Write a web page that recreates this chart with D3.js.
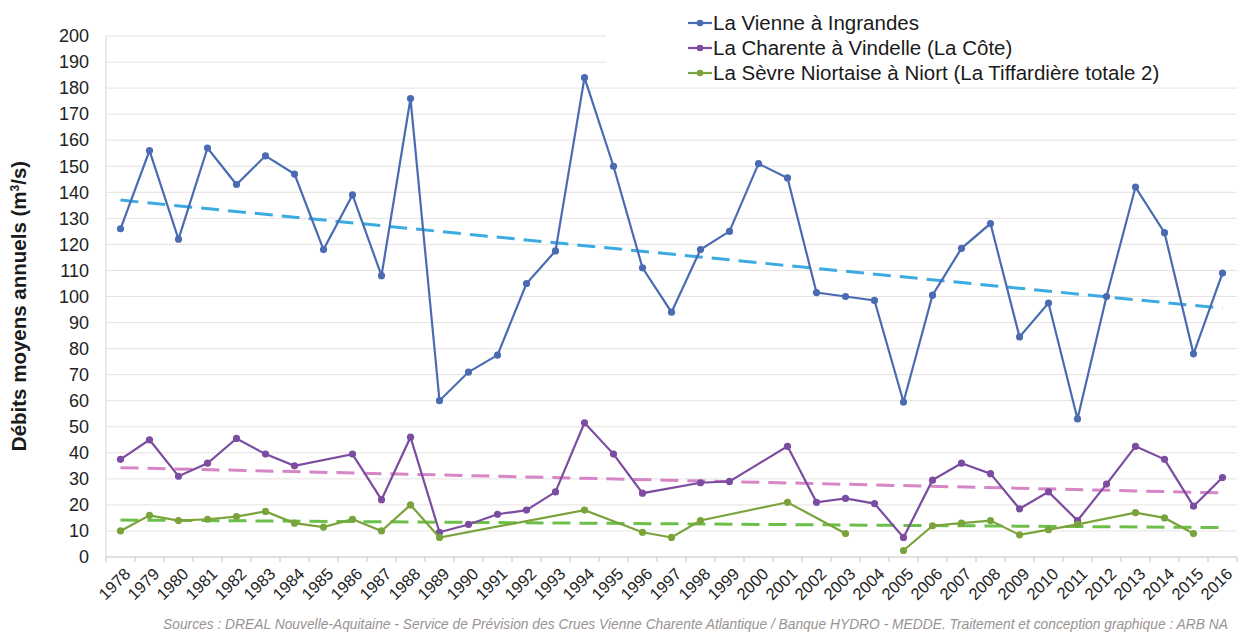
<!doctype html>
<html>
<head>
<meta charset="utf-8">
<script src="https://cdnjs.cloudflare.com/ajax/libs/d3/7.8.5/d3.min.js"></script>
<style>
    body { margin: 0; background: #fff; }
    svg { display: block; font-family: "Liberation Sans", Arial, sans-serif; }
    .grid line { stroke: #e6e2e2; stroke-width: 1; }
    .yaxis text { font-size: 18px; fill: #222; }
    .xaxis text { font-size: 16.5px; fill: #222; }
    .legend text { font-size: 20.5px; fill: #1a1a1a; }
</style>
</head>
<body>
<script>
    // annees
    var years = d3.range(1978, 2017);

    // debits moyens annuels (m3/s), null = pas de donnee
    var vienne = [126, 156, 122, 157, 143, 154, 147, 118, 139, 108, 176, 60, 71, 77.5, 105, 117.5, 184, 150, 111, 94,
        118, 125, 151, 145.5, 101.5, 100, 98.5, 59.5, 100.5, 118.5, 128, 84.5, 97.5, 53, 100, 142, 124.5, 78, 109];
    var charente = [37.5, 45, 31, 36, 45.5, 39.5, 35, null, 39.5, 22, 46, 9.5, 12.5, 16.4, 18, 25, 51.5, 39.5, 24.5, null,
        28.5, 29, null, 42.5, 21, 22.5, 20.5, 7.5, 29.5, 36, 32, 18.5, 25, 14, 28, 42.5, 37.5, 19.5, 30.5];
    var sevre = [10, 16, 14, 14.5, 15.5, 17.5, 13, 11.5, 14.5, 10, 20, 7.5, null, null, null, null, 18, null, 9.5, 7.5,
        14, null, null, 21, null, 9, null, 2.5, 12, 13, 14, 8.5, 10.5, 12.5, null, 17, 15, 9, null];
    // annees ou la courbe est interrompue
    var sevreBreaks = [2004];

    // courbes de tendance (valeurs en 1978 et 2016)
    var trendVienne = [137, 95.5];
    var trendCharente = [34.3, 24.6];
    var trendSevre = [14.2, 11.3];

    var yTicks = d3.range(0, 201, 10);
    var seriesNames = ["La Vienne à Ingrandes", "La Charente à Vindelle (La Côte)",
        "La Sèvre Niortaise à Niort (La Tiffardière totale 2)"];

    var series = [
        { name: seriesNames[0], values: vienne, breaks: [], color: "#4a6bb2", trend: trendVienne, trendColor: "#3cabe2" },
        { name: seriesNames[1], values: charente, breaks: [], color: "#7b4c9f", trend: trendCharente, trendColor: "#d685c6" },
        { name: seriesNames[2], values: sevre, breaks: sevreBreaks, color: "#7aa33c", trend: trendSevre, trendColor: "#6cbf48" }
    ];

    var width = 1238, height = 633;
    var plotLeft = 106, plotRight = 1237, plotTop = 36, plotBottom = 557;

    var svg = d3.select("body").append("svg")
        .attr("width", width)
        .attr("height", height);

    var x = d3.scaleBand().domain(years).range([plotLeft, plotRight]);
    var cx = function(yr) { return x(yr) + x.bandwidth() / 2; };
    var y = d3.scaleLinear().domain([0, 200]).range([plotBottom, plotTop]);

    // grille
    svg.append("g").attr("class", "grid")
        .selectAll("line")
        .data(yTicks.filter(function(d) { return d > 0; }))
        .enter().append("line")
        .attr("x1", plotLeft).attr("x2", plotRight)
        .attr("y1", function(d) { return y(d); })
        .attr("y2", function(d) { return y(d); });

    // axe vertical
    svg.append("line")
        .attr("x1", plotLeft).attr("x2", plotLeft)
        .attr("y1", plotTop).attr("y2", plotBottom)
        .attr("stroke", "#d9d4d4");

    var yAxis = d3.axisLeft(y).tickValues(yTicks).tickSize(0).tickPadding(17);
    svg.append("g").attr("class", "yaxis")
        .attr("transform", "translate(" + plotLeft + ",0)")
        .call(yAxis)
        .call(function(g) { g.select(".domain").remove(); });

    // axe horizontal
    svg.append("line")
        .attr("x1", plotLeft).attr("x2", plotRight)
        .attr("y1", plotBottom).attr("y2", plotBottom)
        .attr("stroke", "#c8c0c0");

    svg.append("g")
        .selectAll("line")
        .data(years.concat([2017]))
        .enter().append("line")
        .attr("x1", function(d) { return d === 2017 ? plotRight : x(d); })
        .attr("x2", function(d) { return d === 2017 ? plotRight : x(d); })
        .attr("y1", plotBottom).attr("y2", plotBottom + 5)
        .attr("stroke", "#c8c0c0");

    svg.append("g").attr("class", "xaxis")
        .selectAll("text")
        .data(years)
        .enter().append("text")
        .attr("text-anchor", "end")
        .attr("transform", function(d) { return "translate(" + (cx(d) + 7) + "," + (plotBottom + 14) + ") rotate(-45)"; })
        .attr("dy", "0.35em")
        .text(function(d) { return d; });

    // titre axe
    svg.append("text")
        .attr("transform", "translate(26,306) rotate(-90)")
        .attr("text-anchor", "middle")
        .style("font-size", "20.5px")
        .style("font-weight", "bold")
        .style("fill", "#1a1a1a")
        .html("Débits moyens annuels (m<tspan baseline-shift='super' font-size='12px'>3</tspan>/s)");

    // tendances
    series.forEach(function(s) {
        svg.append("line")
            .attr("x1", cx(years[0])).attr("x2", cx(years[years.length - 1]))
            .attr("y1", y(s.trend[0])).attr("y2", y(s.trend[1]))
            .attr("stroke", s.trendColor)
            .attr("stroke-width", 3)
            .attr("stroke-dasharray", "18,9");
    });

    // courbes
    series.forEach(function(s) {
        var pts = years.map(function(yr, i) { return { year: yr, v: s.values[i] }; });
        var segments = [[]];
        pts.forEach(function(p) {
            if (s.breaks.indexOf(p.year) >= 0) { segments.push([]); return; }
            if (p.v !== null) segments[segments.length - 1].push(p);
        });
        var line = d3.line()
            .x(function(p) { return cx(p.year); })
            .y(function(p) { return y(p.v); });
        segments.forEach(function(seg) {
            svg.append("path")
                .attr("d", line(seg))
                .attr("fill", "none")
                .attr("stroke", s.color)
                .attr("stroke-width", 2.2);
        });
        svg.append("g").selectAll("circle")
            .data(pts.filter(function(p) { return p.v !== null; }))
            .enter().append("circle")
            .attr("cx", function(p) { return cx(p.year); })
            .attr("cy", function(p) { return y(p.v); })
            .attr("r", 3.6)
            .attr("fill", s.color);
    });

    // legende
    var legend = svg.append("g").attr("class", "legend");
    legend.append("rect")
        .attr("x", 606).attr("y", 0)
        .attr("width", width - 606).attr("height", 82)
        .attr("fill", "#fff");
    series.forEach(function(s, i) {
        var ly = 23 + i * 25;
        legend.append("line")
            .attr("x1", 688).attr("x2", 712)
            .attr("y1", ly).attr("y2", ly)
            .attr("stroke", s.color).attr("stroke-width", 2.2);
        legend.append("circle")
            .attr("cx", 700).attr("cy", ly).attr("r", 3.3)
            .attr("fill", s.color);
        legend.append("text")
            .attr("x", 713).attr("y", ly)
            .attr("dy", "0.36em")
            .text(s.name);
    });

    // source
    svg.append("text")
        .attr("x", 163).attr("y", 629)
        .style("font-size", "13.8px")
        .style("font-style", "italic")
        .style("fill", "#9a9292")
        .text("Sources : DREAL Nouvelle-Aquitaine - Service de Prévision des Crues Vienne Charente Atlantique / Banque HYDRO - MEDDE. Traitement et conception graphique : ARB NA");
</script>
</body>
</html>
